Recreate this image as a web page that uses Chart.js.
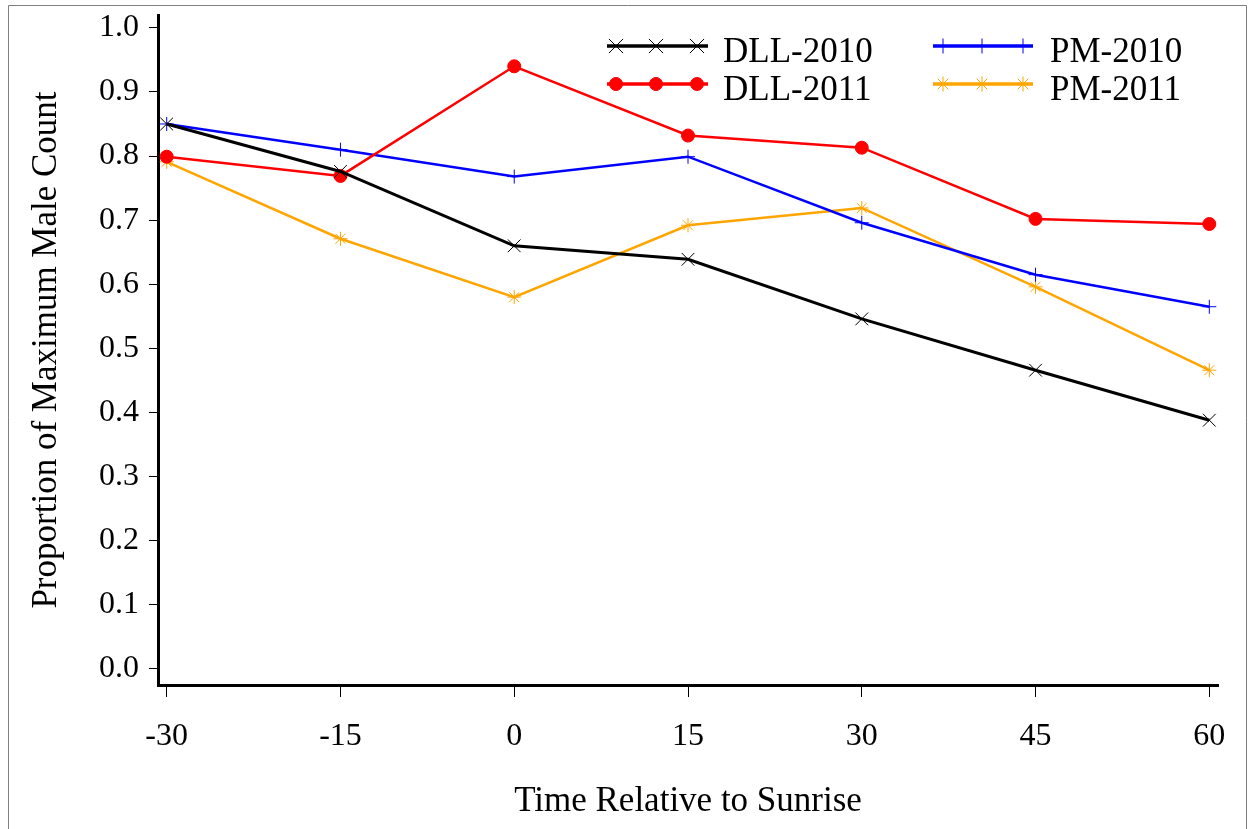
<!DOCTYPE html>
<html>
<head>
<meta charset="utf-8">
<title>Proportion of Maximum Male Count</title>
<script src="https://cdn.jsdelivr.net/npm/chart.js@4.4.1/dist/chart.umd.min.js"></script>
<style>
  body { margin:0; background:#fff; }
  #lek_canvas { display:block; }
</style>
</head>
<body>
<canvas id="lek_canvas" width="1250" height="829"></canvas>
<script>
// time relative to sunrise (minutes)
var times = [-30, -15, 0, 15, 30, 45, 60];
var yTicks = [0, 0.1, 0.2, 0.3, 0.4, 0.5, 0.6, 0.7, 0.8, 0.9, 1.0];

var dll2010 = [0.850, 0.776, 0.660, 0.639, 0.546, 0.466, 0.388];
var dll2011 = [0.799, 0.769, 0.940, 0.832, 0.813, 0.702, 0.694];
var pm2010  = [0.850, 0.810, 0.768, 0.799, 0.696, 0.615, 0.565];
var pm2011  = [0.791, 0.671, 0.580, 0.692, 0.719, 0.596, 0.466];

var fontName = '"Liberation Serif", "Times New Roman", serif';

function pts(vals){
    return times.map(function(t, i){ return {x: t, y: vals[i]}; });
}

var chartdata = {
    datasets: [
        {label:'DLL-2010', data: pts(dll2010), borderColor:'#000000', backgroundColor:'#000000',
         borderWidth:3, pointStyle:'crossRot', pointRadius:9, pointBorderWidth:1,
         legendCol:0, legendRow:0, legendRadius:10},
        {label:'DLL-2011', data: pts(dll2011), borderColor:'#ff0000', backgroundColor:'#ff0000',
         borderWidth:2.5, pointStyle:'circle', pointRadius:6.5, pointBorderWidth:1,
         legendCol:0, legendRow:1, legendRadius:6.5},
        {label:'PM-2010', data: pts(pm2010), borderColor:'#0000ff', backgroundColor:'#0000ff',
         borderWidth:2.5, pointStyle:'cross', pointRadius:7, pointBorderWidth:1,
         legendCol:1, legendRow:0, legendRadius:7.5},
        {label:'PM-2011', data: pts(pm2011), borderColor:'#ffa500', backgroundColor:'#ffa500',
         borderWidth:2.5, pointStyle:'star', pointRadius:7, pointBorderWidth:1,
         legendCol:1, legendRow:1, legendRadius:7.5}
    ]
};

// legend with two columns, line + three markers like the original
var legendCols = [{x0:607, x1:708, marks:[616, 656, 697], tx:723},
                  {x0:933, x1:1033, marks:[943, 982, 1023], tx:1050}];
var legendRows = [46, 84];

var legendPlugin = {
    id:'twoColLegend',
    afterDraw: function(chart){
        var ctx = chart.ctx;
        ctx.save();
        chart.data.datasets.forEach(function(ds){
            var c = legendCols[ds.legendCol], y = legendRows[ds.legendRow];
            ctx.strokeStyle = ds.borderColor;
            ctx.lineWidth = 3.5;
            ctx.beginPath();
            ctx.moveTo(c.x0, y);
            ctx.lineTo(c.x1, y);
            ctx.stroke();
            ctx.fillStyle = ds.backgroundColor;
            ctx.lineWidth = 1;
            c.marks.forEach(function(mx){
                Chart.helpers.drawPoint(ctx, {pointStyle:ds.pointStyle, radius:ds.legendRadius, rotation:0, borderWidth:1}, mx, y);
            });
            ctx.fillStyle = '#000';
            ctx.font = '35px ' + fontName;
            ctx.textBaseline = 'alphabetic';
            ctx.textAlign = 'left';
            ctx.fillText(ds.label, c.tx, y + 16);
        });
        ctx.restore();
    }
};

// thin grey frame round the picture
var framePlugin = {
    id:'frame',
    beforeDraw: function(chart){
        var ctx = chart.ctx;
        ctx.save();
        ctx.fillStyle = '#fff';
        ctx.fillRect(0, 0, chart.width, chart.height);
        ctx.strokeStyle = '#7f7f7f';
        ctx.lineWidth = 1;
        ctx.beginPath();
        ctx.moveTo(8.5, 829);
        ctx.lineTo(8.5, 5.5);
        ctx.lineTo(1246.5, 5.5);
        ctx.lineTo(1246.5, 829);
        ctx.stroke();
        ctx.restore();
    }
};

function noOverflow(scale){
    scale.paddingTop = 0;
    scale.paddingBottom = 0;
    scale.paddingLeft = 0;
    scale.paddingRight = 0;
}

var options = {
    responsive:false,
    animation:false,
    devicePixelRatio:1,
    layout:{ padding:{ left:0, top:15, right:32, bottom:0 } },
    plugins:{ legend:{ display:false }, tooltip:{ enabled:false } },
    elements:{ line:{ tension:0 } },
    scales:{
        x:{
            type:'linear',
            min:-30.75,
            max:60.75,
            afterBuildTicks: function(scale){
                scale.ticks = times.map(function(v){ return {value:v}; });
            },
            afterFit: function(scale){ scale.height = 144; noOverflow(scale); },
            border:{ display:true, color:'#000', width:3 },
            grid:{ display:true, drawOnChartArea:false, drawTicks:true, tickLength:12, color:'#000', lineWidth:1 },
            ticks:{ color:'#000', padding:20, maxRotation:0, font:{ family:fontName, size:32 } },
            title:{ display:true, text:'Time Relative to Sunrise', color:'#000',
                    padding:{ top:0, bottom:6 }, font:{ family:fontName, size:35 } }
        },
        y:{
            type:'linear',
            min:-0.025,
            max:1.02,
            afterBuildTicks: function(scale){
                scale.ticks = yTicks.map(function(v){ return {value:v}; });
            },
            afterFit: function(scale){ scale.width = 158; noOverflow(scale); },
            border:{ display:true, color:'#000', width:3 },
            grid:{ display:true, drawOnChartArea:false, drawTicks:true, tickLength:9, color:'#000', lineWidth:1 },
            ticks:{ color:'#000', padding:10, font:{ family:fontName, size:32 },
                    callback: function(v){ return Number(v).toFixed(1); } },
            title:{ display:true, text:'Proportion of Maximum Male Count', color:'#000',
                    padding:{ top:26, bottom:0 }, font:{ family:fontName, size:35 } }
        }
    }
};

var ctx1 = document.getElementById('lek_canvas');
var chart = new Chart(ctx1, {
    type:'line',
    data:chartdata,
    options:options,
    plugins:[framePlugin, legendPlugin]
});
</script>
</body>
</html>
